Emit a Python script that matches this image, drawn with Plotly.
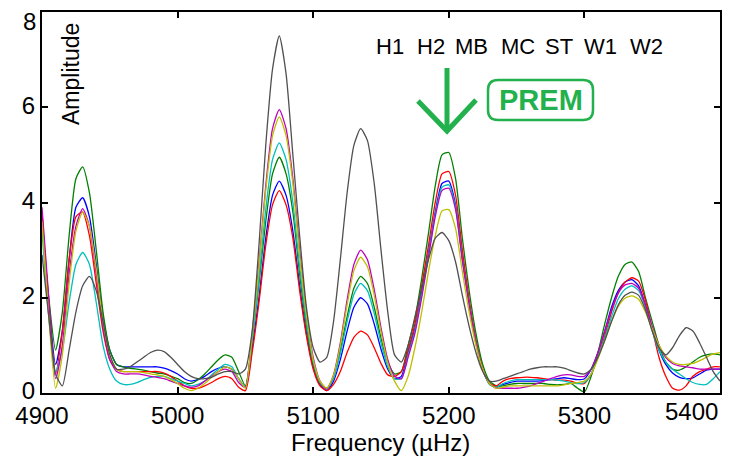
import plotly.graph_objects as go

# ---------------- data ----------------
freq = list(range(4900, 5401, 5))  # µHz

names = ["H1", "H2", "MB", "MC", "ST", "W1", "W2"]
colors = ["#0000FF", "#008000", "#FF0000", "#00BFBF", "#BF00BF", "#BFBF00", "#505050"]

h1 = [3.7, 1.9, 0.6, 1.3, 2.8, 3.9, 4.1, 3.7, 2.7, 1.6, 0.9, 0.6, 0.55,
      0.55, 0.55, 0.55, 0.55, 0.55, 0.52, 0.47, 0.4, 0.3, 0.25, 0.28, 0.35, 0.45, 0.52, 0.55, 0.5, 0.3,
      0.12, 0.95, 2.0, 3.25, 4.15, 4.45, 4.15, 3.4, 2.25, 1.25, 0.55, 0.18,
      0.05, 0.25, 0.7, 1.3, 1.8, 2.0, 1.87, 1.45, 0.92, 0.5, 0.3, 0.35,
      0.85, 1.35, 2.1, 2.95, 3.8, 4.4, 4.45, 3.95, 2.85, 1.9, 1.1, 0.5, 0.2,
      0.12, 0.18, 0.22, 0.25, 0.25, 0.25, 0.25, 0.26, 0.28, 0.3, 0.32, 0.3, 0.28, 0.3,
      0.5, 0.85, 1.3, 1.8, 2.15, 2.33, 2.38, 2.25, 1.85, 1.35, 0.9, 0.6, 0.42, 0.33, 0.3, 0.32, 0.4, 0.48, 0.5, 0.5]

h2 = [3.6, 2.0, 0.9, 1.7, 3.3, 4.5, 4.75, 4.2, 3.0, 1.7, 0.9, 0.6, 0.55,
      0.52, 0.5, 0.48, 0.45, 0.42, 0.4, 0.35, 0.3, 0.22, 0.2, 0.28, 0.4, 0.55, 0.7, 0.8, 0.75, 0.45,
      0.15, 1.1, 2.3, 3.6, 4.6, 4.95, 4.6, 3.8, 2.5, 1.4, 0.6, 0.2,
      0.1, 0.35, 0.9, 1.6, 2.2, 2.45, 2.3, 1.8, 1.15, 0.65, 0.4, 0.45,
      1.0, 1.55, 2.4, 3.35, 4.35, 5.0, 5.05, 4.5, 3.25, 2.15, 1.25, 0.6, 0.25,
      0.15, 0.15, 0.18, 0.2, 0.2, 0.2, 0.2, 0.2, 0.18, 0.17, 0.18, 0.2, 0.1, 0.02,
      0.35, 0.85, 1.45, 2.0, 2.45, 2.7, 2.75, 2.55, 2.0, 1.5, 1.0, 0.65, 0.5, 0.48, 0.55, 0.65, 0.75, 0.8, 0.82, 0.8]

mb = [3.8, 1.8, 0.4, 1.3, 2.8, 3.7, 3.8, 3.3, 2.3, 1.3, 0.7, 0.5, 0.45,
      0.45, 0.45, 0.45, 0.45, 0.45, 0.42, 0.35, 0.25, 0.15, 0.1, 0.1, 0.15, 0.22, 0.3, 0.35, 0.3, 0.12,
      0.05, 0.85, 1.9, 3.1, 3.95, 4.25, 3.95, 3.25, 2.15, 1.2, 0.5, 0.15,
      0.05, 0.18, 0.45, 0.85, 1.17, 1.3, 1.22, 0.95, 0.62, 0.38, 0.35, 0.45,
      0.9, 1.45, 2.25, 3.1, 4.0, 4.6, 4.65, 4.15, 3.0, 1.95, 1.1, 0.5, 0.2,
      0.15, 0.25, 0.3, 0.32, 0.33, 0.33, 0.32, 0.3, 0.28, 0.27, 0.27, 0.25, 0.2, 0.2,
      0.4, 0.75, 1.2, 1.7, 2.1, 2.33, 2.42, 2.35, 1.95, 1.35, 0.75, 0.35, 0.1, 0.06, 0.15, 0.35, 0.45, 0.5, 0.55, 0.55]

mc = [3.4, 1.6, 0.45, 0.9, 1.9, 2.7, 2.95, 2.7, 1.9, 1.0, 0.5, 0.25, 0.18,
      0.18, 0.22, 0.28, 0.33, 0.35, 0.35, 0.3, 0.25, 0.2, 0.15, 0.18, 0.25, 0.38, 0.5, 0.6, 0.55, 0.3,
      0.12, 1.1, 2.4, 3.85, 4.9, 5.25, 4.9, 4.0, 2.65, 1.5, 0.65, 0.22,
      0.08, 0.3, 0.82, 1.5, 2.07, 2.3, 2.15, 1.67, 1.05, 0.55, 0.3, 0.3,
      0.8, 1.3, 2.05, 2.9, 3.75, 4.32, 4.37, 3.9, 2.8, 1.85, 1.05, 0.48, 0.18,
      0.12, 0.2, 0.25, 0.28, 0.28, 0.28, 0.28, 0.28, 0.28, 0.27, 0.25, 0.22, 0.2, 0.22,
      0.4, 0.75, 1.15, 1.6, 1.98, 2.18, 2.25, 2.15, 1.8, 1.3, 0.9, 0.65, 0.5, 0.4, 0.3, 0.22, 0.18, 0.18, 0.3, 0.45]

st = [3.9, 2.0, 0.3, 1.0, 2.5, 3.5, 3.87, 3.5, 2.5, 1.4, 0.7, 0.45, 0.4,
      0.4, 0.4, 0.38, 0.35, 0.33, 0.3, 0.25, 0.2, 0.15, 0.12, 0.15, 0.25, 0.35, 0.45, 0.5, 0.45, 0.22,
      0.12, 1.25, 2.7, 4.35, 5.55, 5.95, 5.55, 4.5, 3.0, 1.7, 0.75, 0.25,
      0.08, 0.38, 1.05, 1.95, 2.7, 3.0, 2.8, 2.17, 1.37, 0.7, 0.35, 0.3,
      0.75, 1.25, 2.0, 2.85, 3.7, 4.25, 4.3, 3.85, 2.78, 1.85, 1.05, 0.5, 0.2,
      0.1, 0.1, 0.1, 0.1, 0.12, 0.15, 0.2, 0.25, 0.3, 0.35, 0.38, 0.38, 0.35, 0.35,
      0.5, 0.85, 1.3, 1.75, 2.1, 2.27, 2.3, 2.2, 1.85, 1.4, 1.0, 0.75, 0.62, 0.57, 0.55, 0.53, 0.5, 0.5, 0.5, 0.5]

w1 = [3.6, 1.6, 0.1, 0.8, 2.3, 3.4, 3.8, 3.5, 2.6, 1.5, 0.8, 0.5, 0.45,
      0.45, 0.45, 0.43, 0.4, 0.38, 0.35, 0.28, 0.2, 0.1, 0.05, 0.1, 0.2, 0.33, 0.45, 0.55, 0.5, 0.3,
      0.1, 1.2, 2.65, 4.25, 5.4, 5.8, 5.4, 4.4, 2.9, 1.65, 0.7, 0.25,
      0.1, 0.37, 1.0, 1.85, 2.57, 2.85, 2.65, 2.05, 1.28, 0.63, 0.25, 0.05,
      0.35, 0.95, 1.7, 2.55, 3.3, 3.82, 3.85, 3.45, 2.55, 1.7, 1.0, 0.5, 0.2,
      0.1, 0.12, 0.15, 0.15, 0.15, 0.15, 0.15, 0.15, 0.15, 0.15, 0.17, 0.2, 0.22, 0.25,
      0.4, 0.72, 1.1, 1.5, 1.82, 1.99, 2.04, 1.97, 1.7, 1.35, 1.0, 0.78, 0.65, 0.6, 0.6, 0.62, 0.68, 0.75, 0.82, 0.85]

w2 = [2.9, 1.6, 0.4, 0.15, 0.9, 1.7, 2.25, 2.45, 2.15, 1.5, 0.8, 0.5, 0.5,
      0.55, 0.65, 0.75, 0.85, 0.9, 0.87, 0.75, 0.6, 0.45, 0.35, 0.3, 0.3, 0.33, 0.4, 0.45, 0.45, 0.4,
      0.5, 1.3, 3.1, 5.2, 6.8, 7.5, 6.7, 5.0, 3.3, 1.8, 0.95, 0.65,
      0.75, 1.5, 2.8, 4.2, 5.2, 5.55, 5.3, 4.4, 3.0, 1.7, 0.8, 0.65,
      1.0, 1.6, 2.2, 2.8, 3.25, 3.37, 3.2, 2.75, 2.05, 1.4, 0.85, 0.45, 0.25,
      0.25, 0.3, 0.35, 0.4, 0.45, 0.5, 0.53, 0.55, 0.55, 0.55, 0.52, 0.47, 0.42, 0.4,
      0.5, 0.75, 1.1, 1.5, 1.85, 2.05, 2.12, 2.05, 1.75, 1.3, 0.95, 0.8, 0.95, 1.2, 1.37, 1.3, 1.05, 0.75, 0.45, 0.25]

series = [h1, h2, mb, mc, st, w1, w2]

x_ticks = [4900, 5000, 5100, 5200, 5300, 5400]
y_ticks = [0, 2, 4, 6, 8]
x_range = [4900, 5400]
y_range = [0, 8]

# ---------------- layout geometry (pixels) ----------------
OFF = 8                     # page body margin added by the browser
W, H = 732 - OFF, 459 - OFF
L, R, T, B = 34, 12, 4, 66
PW, PH = W - L - R, H - T - B


def px(xp):  # screenshot pixel -> paper x
    return (xp - OFF - L) / PW


def py(yp):  # screenshot pixel -> paper y
    return (H - B - (yp - OFF)) / PH


fig = go.Figure()
for name, col, vals in zip(names, colors, series):
    fig.add_trace(go.Scatter(x=freq, y=vals, mode="lines", name=name,
                             line=dict(color=col, width=1.3, shape="spline", smoothing=0.6)))

FONT = "Liberation Sans, Arial, sans-serif"
GREEN = "#22B14C"

fig.update_layout(
    width=W, height=H,
    margin=dict(l=L, r=R, t=T, b=B, pad=0, autoexpand=False),
    paper_bgcolor="white", plot_bgcolor="white",
    showlegend=False,
    font=dict(family=FONT, size=24, color="black"),
)
fig.update_xaxes(range=x_range, tickvals=x_ticks,
                 ticktext=[str(v) for v in x_ticks[:-1]] + [""],
                 ticks="inside", ticklen=6, tickwidth=1.5, tickcolor="black",
                 showline=True, linecolor="black", linewidth=2, mirror="allticks",
                 showgrid=False, zeroline=False, automargin=False,
                 ticklabeloverflow="allow", tickfont=dict(size=24))
fig.update_yaxes(range=y_range, tickvals=y_ticks,
                 ticktext=[str(v) for v in y_ticks[:-1]] + [""],
                 ticks="inside", ticklen=6, tickwidth=1.5, tickcolor="black",
                 showline=True, linecolor="black", linewidth=2, mirror="allticks",
                 showgrid=False, zeroline=False, automargin=False,
                 ticklabelshift=-2,
                 ticklabeloverflow="allow", tickfont=dict(size=24))

ann = []
# last x tick label, pushed inside the frame like the reference
ann.append(dict(x=x_ticks[-1], y=0, xref="x", yref="paper", text=str(x_ticks[-1]),
                showarrow=False, xanchor="right", yanchor="top", yshift=-3,
                font=dict(size=24)))
# top y tick label, pushed down so it stays on the page
ann.append(dict(x=0, y=y_ticks[-1], xref="paper", yref="y", text=str(y_ticks[-1]),
                showarrow=False, xanchor="right", yanchor="middle", xshift=-4, yshift=-9,
                font=dict(size=24)))
# axis titles
ann.append(dict(x=px(380), y=py(442), xref="paper", yref="paper", text="Frequency (µHz)",
                showarrow=False, xanchor="center", yanchor="middle", font=dict(size=24)))
ann.append(dict(x=px(71), y=py(74), xref="paper", yref="paper", text="Amplitude",
                showarrow=False, textangle=-90, xanchor="center", yanchor="middle",
                font=dict(size=23)))
# model names
name_centers = [389.5, 431, 471, 517.5, 559, 600.5, 646.5]
for nm, cx in zip(names, name_centers):
    ann.append(dict(x=px(cx), y=py(47), xref="paper", yref="paper", text=nm,
                    showarrow=False, xanchor="center", yanchor="middle",
                    font=dict(size=22)))
# PREM label
ann.append(dict(x=px(541), y=py(100), xref="paper", yref="paper", text="<b>PREM</b>",
                showarrow=False, xanchor="center", yanchor="middle",
                font=dict(size=29, color=GREEN)))
fig.update_layout(annotations=ann)

# rounded box around PREM
bx0, bx1, by0, by1, r = 488, 593, 80, 120, 10
path = (f"M {px(bx0 + r)},{py(by0)} L {px(bx1 - r)},{py(by0)} "
        f"Q {px(bx1)},{py(by0)} {px(bx1)},{py(by0 + r)} "
        f"L {px(bx1)},{py(by1 - r)} Q {px(bx1)},{py(by1)} {px(bx1 - r)},{py(by1)} "
        f"L {px(bx0 + r)},{py(by1)} Q {px(bx0)},{py(by1)} {px(bx0)},{py(by1 - r)} "
        f"L {px(bx0)},{py(by0 + r)} Q {px(bx0)},{py(by0)} {px(bx0 + r)},{py(by0)} Z")
fig.add_shape(type="path", path=path, xref="paper", yref="paper",
              line=dict(color=GREEN, width=2.5))
# arrow
fig.add_shape(type="path", xref="paper", yref="paper",
              path=f"M {px(447)},{py(68)} L {px(447)},{py(131)}",
              line=dict(color=GREEN, width=5))
fig.add_shape(type="path", xref="paper", yref="paper",
              path=f"M {px(418)},{py(101)} L {px(447)},{py(131)} L {px(476)},{py(100)}",
              line=dict(color=GREEN, width=5))

fig.write_html("out.html")
